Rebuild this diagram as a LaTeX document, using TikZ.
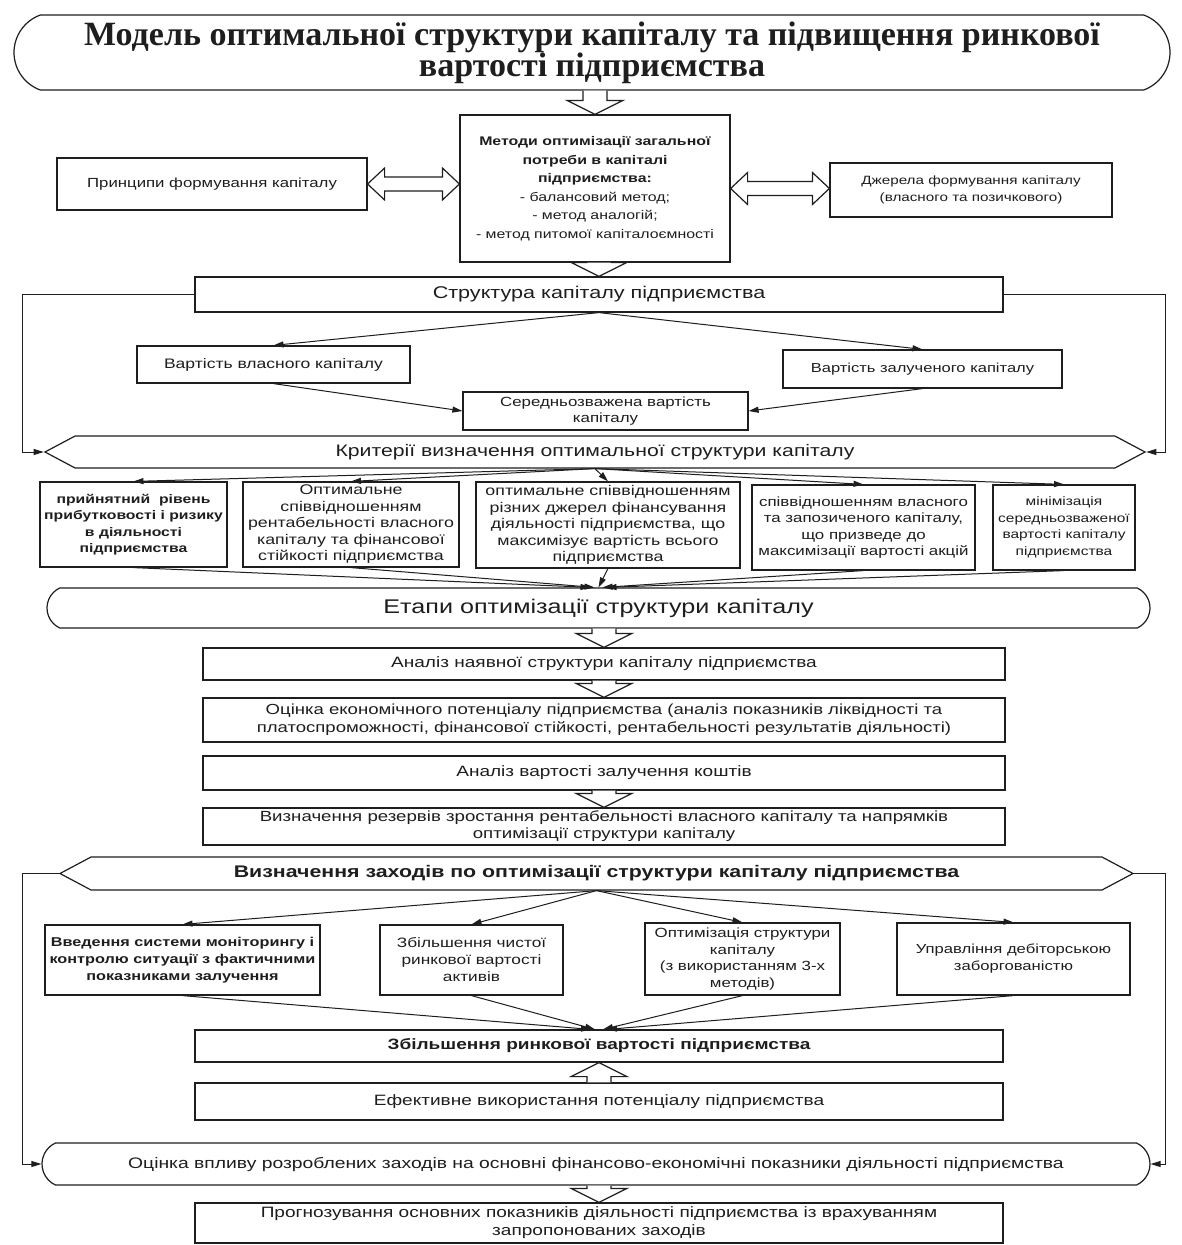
\documentclass[tikz,border=0pt]{standalone}
\usepackage{fontspec}
\setmainfont{Liberation Sans}[FakeStretch=1.27]
\newfontfamily\titlefont{Liberation Serif}
\usetikzlibrary{arrows.meta,calc,shapes.misc,shapes.symbols}
\definecolor{ink}{HTML}{1E1E1E}
\newcommand{\fs}[2]{\fontsize{#1}{#2}\selectfont}
\newcommand{\hollowdn}[2]{%
 \draw[hollow] let \p1=(#1.south), \p2=(#2.north) in
 (\x2-12pt,\y1) -- (\x2-12pt,\y2+14pt) -- (\x2-28pt,\y2+14pt) -- (\x2,\y2)
 -- (\x2+28pt,\y2+14pt) -- (\x2+12pt,\y2+14pt) -- (\x2+12pt,\y1);}
\newcommand{\hollowup}[2]{%
 \draw[hollow] let \p1=(#1.north), \p2=(#2.south) in
 (\x2-12pt,\y1) -- (\x2-12pt,\y2-14pt) -- (\x2-28pt,\y2-14pt) -- (\x2,\y2)
 -- (\x2+28pt,\y2-14pt) -- (\x2+12pt,\y2-14pt) -- (\x2+12pt,\y1);}
\newcommand{\hollowlr}[2]{%
 \draw[hollow] let \p1=(#1.east), \p2=(#2.west) in
 (\x1,\y1) -- (\x1+17pt,\y1+16pt) -- (\x1+17pt,\y1+7pt) -- (\x2-17pt,\y1+7pt)
 -- (\x2-17pt,\y1+16pt) -- (\x2,\y1) -- (\x2-17pt,\y1-16pt) -- (\x2-17pt,\y1-7pt)
 -- (\x1+17pt,\y1-7pt) -- (\x1+17pt,\y1-16pt) -- cycle;}
\tikzset{
 box/.style={draw=ink, line width=1.2pt, fill=white, align=center, inner sep=2pt, text=ink},
 stad/.style={box, rounded rectangle, rounded rectangle arc length=130},
 sig/.style={box, signal, signal to=west and east, signal pointer angle=56},
 conn/.style={draw=ink, line width=1pt, -{Triangle[length=10pt,width=6pt]}},
 hollow/.style={draw=ink, line width=1.2pt, fill=white},
 crit box/.style={box, font=\fs{14}{16.5}},
 low box/.style={box, font=\fs{13.3}{16.5}},
 wide box/.style={box, font=\fs{15}{18}},
}
\begin{document}
\begin{tikzpicture}[x=1pt,y=-1pt]
\useasboundingbox (0,0) rectangle (1181,1245);
\fill[white] (0,0) rectangle (1181,1245);
% title
\node[stad, rounded rectangle arc length=140, minimum width=1160pt, minimum height=75pt,
 font=\titlefont\bfseries\fs{34}{31}] (title) at (592,52.5)
 {Модель оптимальної структури капіталу та підвищення ринкової\\ вартості підприємства};
% methods
\node[box, minimum width=270pt, minimum height=147pt, font=\fs{12.5}{18.5}] (meth) at (595,188.5)
 {\textbf{Методи оптимізації загальної}\\ \textbf{потреби в капіталі}\\ \textbf{підприємства:}\\
  - балансовий метод;\\ - метод аналогій;\\ - метод питомої капіталоємності};
\node[box, minimum width=310pt, minimum height=52pt, font=\fs{13.2}{16}] (princ) at (212,184)
 {Принципи формування капіталу};
\node[box, minimum width=282pt, minimum height=54pt, font=\fs{12}{16.5}] (src) at (971,190)
 {Джерела формування капіталу\\ (власного та позичкового)};
% structure
\node[box, minimum width=808pt, minimum height=35pt, font=\fs{17}{20}] (struct) at (599,294.5)
 {Структура капіталу підприємства};
\node[box, minimum width=273pt, minimum height=37pt, font=\fs{13.8}{16}] (vlasn) at (273.5,364.5)
 {Вартість власного капіталу};
\node[box, minimum width=279pt, minimum height=38pt, font=\fs{13}{16}] (zal) at (922.5,369)
 {Вартість залученого капіталу};
\node[box, minimum width=285pt, minimum height=38pt, font=\fs{13.3}{16}] (sered) at (605.5,411)
 {Середньозважена вартість\\ капіталу};
% criteria
\node[sig, minimum width=1100pt, minimum height=32pt, font=\fs{16.7}{20}] (crit) at (595,452)
 {Критерії визначення оптимальної структури капіталу};
\node[crit box, minimum width=187pt, minimum height=85pt, font=\bfseries\fs{12.4}{16.5}] (c1) at (133.5,524.5)
 {прийнятний\ \ рівень\\ прибутковості і ризику\\ в діяльності\\ підприємства};
\node[crit box, minimum width=216pt, minimum height=85pt] (c2) at (351,524.5)
 {Оптимальне\\ співвідношенням\\ рентабельності власного\\ капіталу та фінансової\\ стійкості підприємства};
\node[crit box, minimum width=264pt, minimum height=86pt] (c3) at (608,525)
 {оптимальне співвідношенням\\ різних джерел фінансування\\ діяльності підприємства, що\\ максимізує вартість всього\\ підприємства};
\node[crit box, minimum width=223pt, minimum height=85pt, font=\fs{13.3}{16.5}] (c4) at (863.5,527.5)
 {співвідношенням власного\\ та запозиченого капіталу,\\ що призведе до\\ максимізації вартості акцій};
\node[crit box, minimum width=142pt, minimum height=85pt, font=\fs{12.2}{16.5}] (c5) at (1064,527.5)
 {мінімізація\\ середньозваженої\\ вартості капіталу\\ підприємства};
% stages
\node[stad, minimum width=1107pt, minimum height=40pt, font=\fs{19.8}{22}] (etap) at (598.5,608)
 {Етапи оптимізації структури капіталу};
\node[wide box, minimum width=802pt, minimum height=32pt] (an1) at (604,664)
 {Аналіз наявної структури капіталу підприємства};
\node[wide box, minimum width=802pt, minimum height=44pt, font=\fs{14.6}{18}] (ocin) at (604,720)
 {Оцінка економічного потенціалу підприємства (аналіз показників ліквідності та\\ платоспроможності, фінансової стійкості, рентабельності результатів діяльності)};
\node[wide box, minimum width=802pt, minimum height=34pt] (an2) at (604,773)
 {Аналіз вартості залучення коштів};
\node[wide box, minimum width=802pt, minimum height=37pt, font=\fs{14.7}{17}] (vyzn) at (604,826.5)
 {Визначення резервів зростання рентабельності власного капіталу та напрямків\\ оптимізації структури капіталу};
% measures
\node[sig, minimum width=1073pt, minimum height=33pt, font=\bfseries\fs{16.8}{20}] (zah) at (596.5,873.5)
 {Визначення заходів по оптимізації структури капіталу підприємства};
\node[low box, minimum width=275pt, minimum height=70pt, font=\bfseries\fs{12.8}{17}] (d1) at (182.5,960)
 {Введення системи моніторингу і\\ контролю ситуації з фактичними\\ показниками залучення};
\node[low box, minimum width=183pt, minimum height=70pt, font=\fs{13.6}{17}] (d2) at (471.5,960)
 {Збільшення чистої\\ ринкової вартості\\ активів};
\node[low box, minimum width=195pt, minimum height=72pt] (d3) at (742.5,959)
 {Оптимізація структури\\ капіталу\\ (з використанням 3-х\\ методів)};
\node[low box, minimum width=233pt, minimum height=72pt, font=\fs{13.1}{17}] (d4) at (1013.5,959)
 {Управління дебіторською\\ заборгованістю};
\node[wide box, minimum width=808pt, minimum height=32pt, font=\bfseries\fs{15}{18}] (zbil) at (599,1046)
 {Збільшення ринкової вартості підприємства};
\node[wide box, minimum width=808pt, minimum height=37pt] (efek) at (599,1101.5)
 {Ефективне використання потенціалу підприємства};
\node[stad, minimum width=1112pt, minimum height=42pt, font=\fs{15.2}{18}] (ocv) at (596,1164)
 {Оцінка впливу розроблених заходів на основні фінансово-економічні показники діяльності підприємства};
\node[wide box, minimum width=808pt, minimum height=40pt, font=\fs{15}{18}] (prog) at (599,1223)
 {Прогнозування основних показників діяльності підприємства із врахуванням\\ запропонованих заходів};
% feedback rails
\coordinate (railL) at (22,0);
\coordinate (railR) at (1165,0);
% hollow arrows
\hollowdn{title}{meth}
\hollowdn{meth}{struct}
\hollowlr{princ}{meth}
\hollowlr{meth}{src}
\hollowdn{etap}{an1}
\hollowdn{an1}{ocin}
\hollowdn{an2}{vyzn}
\hollowup{efek}{zbil}
\hollowdn{ocv}{prog}
% connectors
\draw[conn] (struct.west) -| (railL |- crit.west) -- (crit.west);
\draw[conn] (struct.east) -| (railR |- crit.east) -- (crit.east);
\draw[conn] (struct.south) -- (vlasn.north);
\draw[conn] (struct.south) -- (zal.north);
\draw[conn] (vlasn.south) -- (sered.west);
\draw[conn] (zal.south) -- (sered.east);
\foreach \n in {c1,c2,c3,c4,c5} \draw[conn] (crit.south) -- (\n.north);
\draw[conn] (c1.south) -- ($(etap.north)+(-8,0)$);
\draw[conn] (c2.south) -- ($(etap.north)+(-4,0)$);
\draw[conn] (c3.south) -- (etap.north);
\draw[conn] (c4.south) -- ($(etap.north)+(4,0)$);
\draw[conn] (c5.south) -- ($(etap.north)+(8,0)$);
\draw[conn] (zah.west) -- (railL |- zah.west) |- (ocv.west);
\draw[conn] (zah.east) -- (railR |- zah.east) |- (ocv.east);
\foreach \n in {d1,d2,d3,d4} \draw[conn] (zah.south) -- (\n.north);
\draw[conn] (d1.south) -- ($(zbil.north)+(-8,0)$);
\draw[conn] (d2.south) -- ($(zbil.north)+(-4,0)$);
\draw[conn] (d3.south) -- ($(zbil.north)+(4,0)$);
\draw[conn] (d4.south) -- ($(zbil.north)+(8,0)$);
\end{tikzpicture}
\end{document}
